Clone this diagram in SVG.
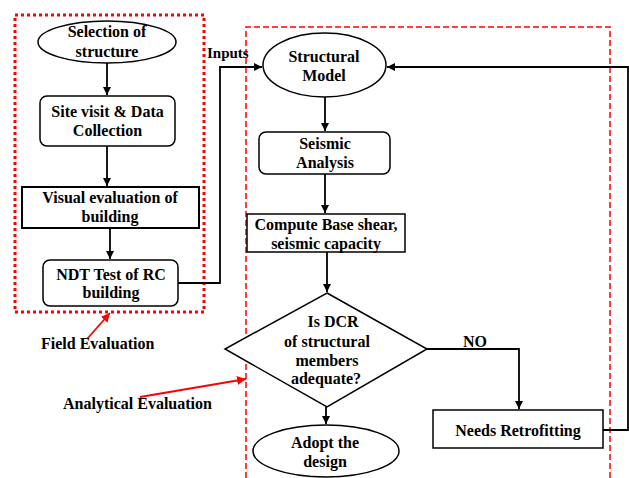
<svg xmlns="http://www.w3.org/2000/svg" width="629" height="478" viewBox="0 0 629 478">
<defs>
<marker id="ah" viewBox="0 0 10 10" refX="10" refY="5" markerWidth="8" markerHeight="8" markerUnits="userSpaceOnUse" orient="auto"><path d="M0,0 L10,5 L0,10 z" fill="#000"/></marker>
<marker id="rah" viewBox="0 0 10 10" refX="10" refY="5" markerWidth="9" markerHeight="9" markerUnits="userSpaceOnUse" orient="auto"><path d="M0,0 L10,5 L0,10 z" fill="#f00"/></marker>
</defs>
<style>
text{font-family:"Liberation Serif","Times New Roman",serif;font-weight:bold;font-size:16px;fill:#000}
.c{text-anchor:middle}
.n{fill:#fff;stroke:#000;stroke-width:1.5}
.conn{fill:none;stroke:#000;stroke-width:1.8}
.red{fill:none;stroke:#f00;stroke-width:1.8}
</style>
<rect width="629" height="478" fill="#fff"/>
<g id="field-region"><rect x="15" y="15" width="189" height="297" fill="none" stroke="#f00" stroke-width="3" stroke-dasharray="3 3"/></g>
<g id="analytical-region"><path d="M246,478 V27 H610 V478" fill="none" stroke="#f00" stroke-width="1.5" stroke-dasharray="6 3"/></g>
<g id="connectors">
<path class="conn" d="M107,63 V95" marker-end="url(#ah)"/>
<path class="conn" d="M107,146 V186" marker-end="url(#ah)"/>
<path class="conn" d="M110,228 V259" marker-end="url(#ah)"/>
<path class="conn" d="M178,283 H220 V67 H262" marker-end="url(#ah)"/>
<path class="conn" d="M325,97 V131" marker-end="url(#ah)"/>
<path class="conn" d="M325,174 V213" marker-end="url(#ah)"/>
<path class="conn" d="M327,252 V292" marker-end="url(#ah)"/>
<path class="conn" d="M427,349 H519 V409" marker-end="url(#ah)"/>
<path class="conn" d="M326,407 V424" marker-end="url(#ah)"/>
<path class="conn" d="M603,430 H628 V67 H387" marker-end="url(#ah)"/>
<text x="207" y="58" style="font-size:15px">Inputs</text>
<text x="463" y="347">NO</text>
<path class="red" d="M87,339 L110,313" marker-end="url(#rah)"/>
<path class="red" d="M140,397 L246,379" marker-end="url(#rah)"/>
</g>
<g id="selection"><ellipse class="n" cx="107" cy="42" rx="69" ry="21"/><text class="c" x="107" y="37">Selection of</text><text class="c" x="107" y="57">structure</text></g>
<g id="site-visit"><rect class="n" x="40" y="96" width="135" height="50" rx="7"/><text class="c" x="107.5" y="117">Site visit &amp; Data</text><text class="c" x="107.5" y="136">Collection</text></g>
<g id="visual-evaluation"><rect class="n" x="22" y="187" width="177" height="41" style="stroke-width:2"/><text class="c" x="110" y="203">Visual evaluation of</text><text class="c" x="110" y="222">building</text></g>
<g id="ndt-test"><rect class="n" x="43" y="260" width="135" height="46" rx="7"/><text class="c" x="111" y="280">NDT Test of RC</text><text class="c" x="111" y="298">building</text></g>
<g id="structural-model"><ellipse class="n" cx="324.5" cy="65" rx="61.5" ry="32"/><text class="c" x="324" y="62">Structural</text><text class="c" x="324" y="81">Model</text></g>
<g id="seismic-analysis"><rect class="n" x="259" y="132" width="131" height="42" rx="7"/><text class="c" x="325" y="149">Seismic</text><text class="c" x="325" y="168">Analysis</text></g>
<g id="compute"><rect class="n" x="247" y="214" width="158" height="38"/><text class="c" x="326" y="230">Compute Base shear,</text><text class="c" x="326" y="249">seismic capacity</text></g>
<g id="dcr-decision"><polygon class="n" points="327,293 427,349 327,407 225,349"/><text class="c" x="333" y="327">Is DCR</text><text class="c" x="327" y="347">of structural</text><text class="c" x="327" y="366">members</text><text class="c" x="326" y="384">adequate?</text></g>
<g id="adopt"><ellipse class="n" cx="326" cy="451" rx="73" ry="26"/><text class="c" x="325" y="448">Adopt the</text><text class="c" x="325" y="467">design</text></g>
<g id="retrofit"><rect class="n" x="433" y="410" width="170" height="38"/><text class="c" x="518" y="436">Needs Retrofitting</text></g>
<g id="labels"><text x="41" y="349">Field Evaluation</text><text x="63" y="409">Analytical Evaluation</text></g>
</svg>
